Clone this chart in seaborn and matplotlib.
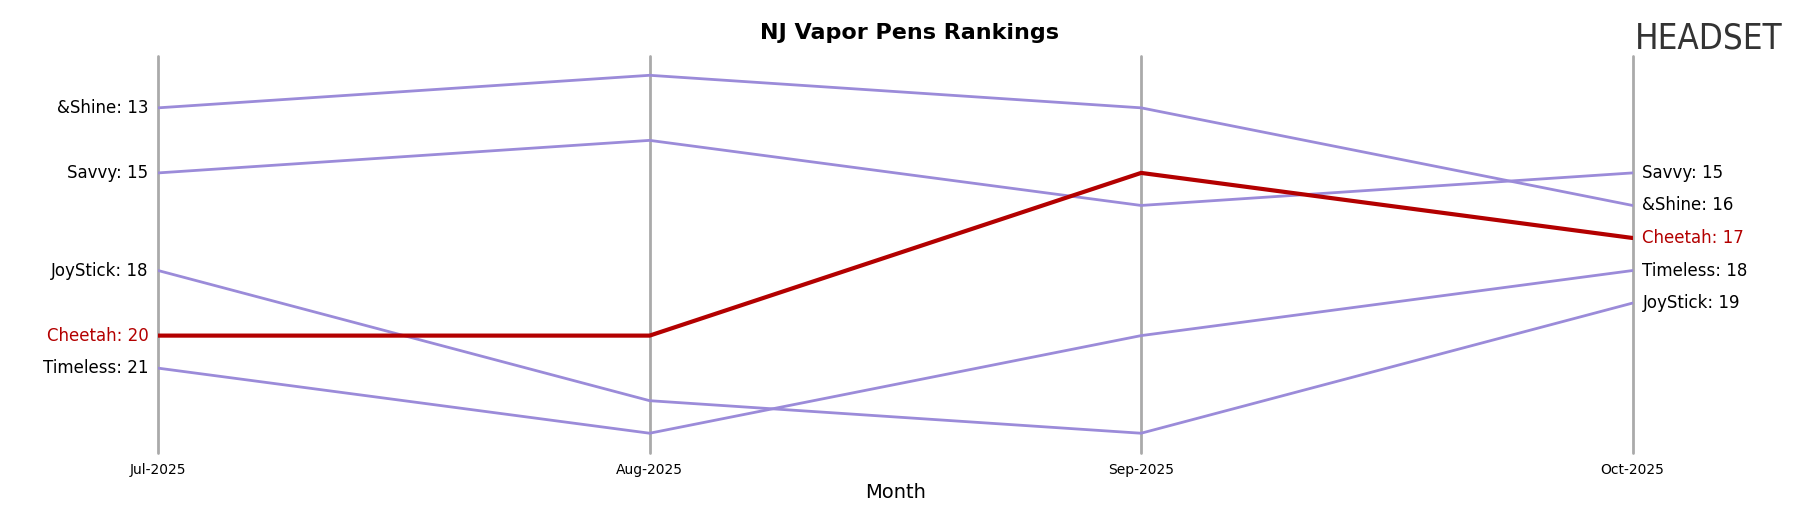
import matplotlib
matplotlib.use("Agg")
import pandas as pd
import seaborn as sns
from matplotlib import pyplot as plt

months = ["Jul-2025", "Aug-2025", "Sep-2025", "Oct-2025"]
brands = ["&Shine", "Savvy", "JoyStick", "Timeless", "Cheetah"]
ranks = {
  "&Shine": [13, 12, 13, 16],
  "Savvy": [15, 14, 16, 15],
  "JoyStick": [18, 22, 23, 19],
  "Timeless": [21, 23, 20, 18],
  "Cheetah": [20, 20, 15, 17],
}
highlight = "Cheetah"

sns.set_style("white")
plt.rcParams['font.family'] = ['DejaVu Sans']

rows = []
for b in brands:
  for i, m in enumerate(months):
    rows.append({"brand": b, "x": i, "rank": ranks[b][i]})
df = pd.DataFrame(rows)

fig = plt.figure(figsize=(18.18, 5.07), dpi=100)
ax = fig.add_axes([0.087, 0.107, 0.811, 0.783])

palette = {b: ("#b30000" if b == highlight else "#9b8bd9") for b in brands}
others = df[df["brand"] != highlight]
sns.lineplot(data=others, x="x", y="rank", hue="brand", palette=palette, lw=2, ax=ax, legend=False)
sns.lineplot(data=df[df["brand"] == highlight], x="x", y="rank", hue="brand", palette=palette, lw=3, ax=ax, legend=False)

for i in range(len(months)):
  ax.axvline(i, color="#aaaaaa", lw=2, zorder=0, clip_on=False)

ax.set_ylim(23.6, 11.4)
ax.set_xlim(0, 3)
ax.set_yticks([])
ax.set_xticks(range(len(months)))
ax.set_xticklabels(months, fontsize=10, color="black")
ax.tick_params(axis="x", length=4)
ax.set_xlabel("Month", fontsize=14, color="black")
ax.set_ylabel("")
for s in ax.spines.values():
  s.set_visible(False)

for b in brands:
  c = "#b30000" if b == highlight else "black"
  ax.text(-0.02, ranks[b][0], f"{b}: {ranks[b][0]}", ha="right", va="center", fontsize=12, color=c)
  ax.text(3.02, ranks[b][-1], f"{b}: {ranks[b][-1]}", ha="left", va="center", fontsize=12, color=c)

fig.suptitle("NJ Vapor Pens Rankings", fontsize=16, fontweight="bold", y=0.955, color="black")
fig.text(0.899, 0.925, "HEADSET", fontsize=25, color="#333333", ha="left", va="center", fontstretch="condensed")

fig.savefig("out.png", dpi=100)
